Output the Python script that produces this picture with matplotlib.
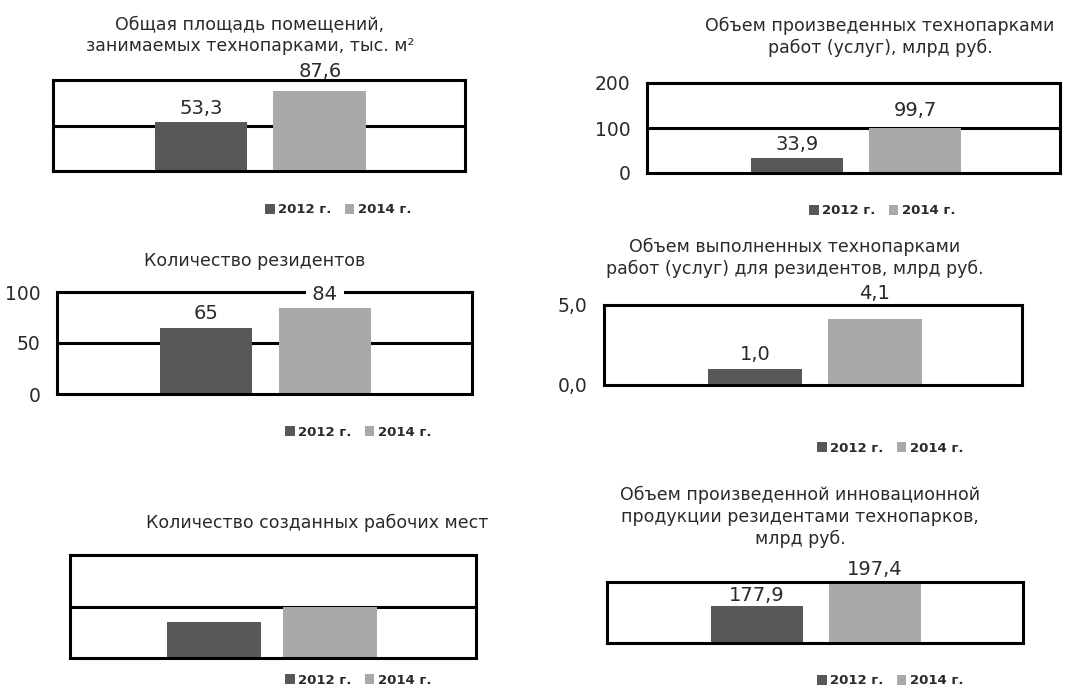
import matplotlib.pyplot as plt
from matplotlib.patches import Patch

W, H = 1083, 693
plt.rcParams['font.family'] = ['DejaVu Sans']

years = ['2012 г.', '2014 г.']
colors = ['#58585a', '#a8a9ab']
text_color = '#2a2a2a'

# values per panel (2012, 2014)
area_values = [53.3, 87.6]
works_values = [33.9, 99.7]
residents_values = [65, 84]
resident_works_values = [1.0, 4.1]
jobs_values = [35, 50]
innovation_values = [177.9, 197.4]

titles = [
    'Общая площадь помещений,\nзанимаемых технопарками, тыс. м²',
    'Объем произведенных технопарками\nработ (услуг), млрд руб.',
    'Количество резидентов',
    'Объем выполненных технопарками\nработ (услуг) для резидентов, млрд руб.',
    'Количество созданных рабочих мест',
    'Объем произведенной инновационной\nпродукции резидентами технопарков,\nмлрд руб.',
]
series = [area_values, works_values, residents_values,
          resident_works_values, jobs_values, innovation_values]
labels = [
    ['53,3', '87,6'],
    ['33,9', '99,7'],
    ['65', '84'],
    ['1,0', '4,1'],
    None,
    ['177,9', '197,4'],
]
ytick_values = [[], [0, 100, 200], [0, 50, 100], [0, 5], [], []]
ytick_labels = [[], ['0', '100', '200'], ['0', '50', '100'], ['0,0', '5,0'], [], []]

# layout in pixels: box (left, top, right, bottom), bar centres, bar width,
# ylim, midline, label offsets, title centre, legend centre
layout = [
    dict(box=(53, 80, 465, 171), centers=(201, 320), bw=93, ylim=(0, 100), mid=50,
         off=(14, 20), title=(250, 35), legend=(338, 210)),
    dict(box=(647, 83, 1060, 173), centers=(797, 915), bw=92, ylim=(0, 200), mid=100,
         off=(13, 18), title=(880, 37), legend=(882, 211)),
    dict(box=(57, 292, 472, 394), centers=(206, 325), bw=92, ylim=(0, 100), mid=50,
         off=(14, 14), title=(255, 261), legend=(358, 432)),
    dict(box=(604, 305, 1022, 385), centers=(755, 875), bw=94, ylim=(0, 5), mid=None,
         off=(15, 26), title=(795, 258), legend=(890, 448)),
    dict(box=(70, 555, 476, 658), centers=(214, 330), bw=94, ylim=(0, 100), mid=50,
         off=(14, 14), title=(317, 523), legend=(358, 680)),
    dict(box=(607, 582, 1023, 643), centers=(757, 875), bw=92, ylim=(145, 199), mid=None,
         off=(10, 14), title=(800, 517), legend=(890, 681)),
]

fig = plt.figure(figsize=(W / 100, H / 100), dpi=100)

for i, lay in enumerate(layout):
    x0, y0, x1, y1 = lay['box']
    ax = fig.add_axes([x0 / W, 1 - y1 / H, (x1 - x0) / W, (y1 - y0) / H])
    c0, c1 = lay['centers']
    gap = c1 - c0
    ax.set_xlim((x0 - c0) / gap, (x1 - c0) / gap)
    ax.set_ylim(*lay['ylim'])
    vals = series[i]
    bottom = lay['ylim'][0]
    ax.bar([0, 1], [v - bottom for v in vals], bottom=bottom, width=lay['bw'] / gap,
           color=colors, zorder=2)
    if lay['mid'] is not None:
        ax.axhline(lay['mid'], color='black', lw=2.2, zorder=1)
    for s in ax.spines.values():
        s.set_linewidth(2.2)
        s.set_color('black')
    ax.set_xticks([])
    ax.set_yticks(ytick_values[i])
    ax.set_yticklabels(ytick_labels[i], fontsize=13.5, color=text_color)
    ax.tick_params(axis='y', length=0, pad=12)

    if labels[i] is not None:
        for j, (v, t) in enumerate(zip(vals, labels[i])):
            box = None
            if i == 2 and j == 1:
                # label sits on the top border, so blank the line behind it
                t = ' ' + t + ' '
                box = dict(facecolor='white', edgecolor='none', pad=0.5)
            ax.annotate(t, (j, v), xytext=(0, lay['off'][j] * 0.72),
                        textcoords='offset points', ha='center', va='center',
                        fontsize=14, color=text_color, bbox=box,
                        annotation_clip=False, zorder=3)

    tx, ty = lay['title']
    fig.text(tx / W, 1 - ty / H, titles[i], ha='center', va='center',
             fontsize=12.5, color=text_color, linespacing=1.3)

    lx, ly = lay['legend']
    handles = [Patch(facecolor=c, edgecolor='none') for c in colors]
    fig.legend(handles, years, loc='center', bbox_to_anchor=(lx / W, 1 - ly / H),
               ncol=2, frameon=False, handlelength=0.75, handleheight=0.75,
               handletextpad=0.25, columnspacing=1.0,
               prop={'size': 9.5, 'weight': 'bold'}, labelcolor=text_color)

fig.savefig('out.png', dpi=100, facecolor='white')
